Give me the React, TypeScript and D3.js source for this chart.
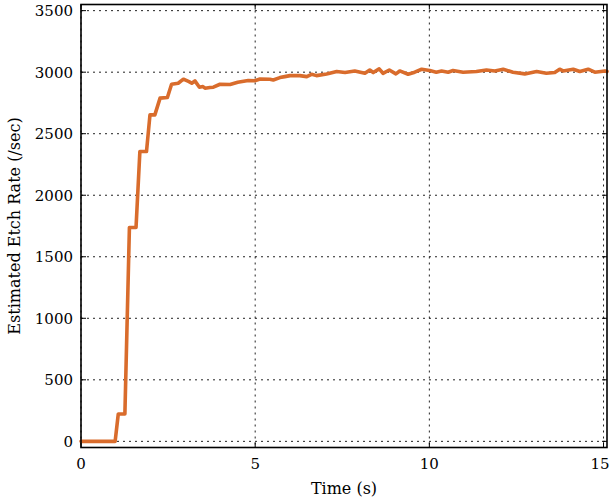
import React from "react";
import * as d3 from "d3";

// time (s) and estimated etch rate
const times = [0, 0.98, 1.07, 1.26, 1.39, 1.58, 1.69, 1.88, 1.98, 2.12, 2.27, 2.48, 2.6, 2.79, 2.94, 3.1, 3.18, 3.27, 3.4, 3.5, 3.56, 3.7, 3.8, 3.99, 4.28, 4.5, 4.8, 4.99, 5.14, 5.42, 5.52, 5.71, 5.85, 6.0, 6.28, 6.48, 6.62, 6.76, 7.05, 7.34, 7.58, 7.86, 8.15, 8.29, 8.39, 8.56, 8.67, 8.85, 9.04, 9.15, 9.39, 9.58, 9.78, 10.01, 10.2, 10.35, 10.54, 10.68, 10.97, 11.35, 11.64, 11.88, 12.12, 12.4, 12.74, 13.08, 13.36, 13.6, 13.74, 13.84, 14.13, 14.32, 14.56, 14.75, 15.04, 15.1];
const rates = [0, 0, 222, 222, 1738, 1738, 2355, 2355, 2653, 2653, 2789, 2794, 2902, 2910, 2943, 2923, 2910, 2929, 2878, 2883, 2870, 2875, 2878, 2902, 2900, 2918, 2932, 2930, 2945, 2943, 2937, 2956, 2964, 2972, 2972, 2964, 2983, 2972, 2986, 3005, 2997, 3010, 2991, 3018, 2997, 3027, 2991, 3018, 2986, 3010, 2983, 3000, 3024, 3013, 3000, 3010, 3000, 3013, 3000, 3005, 3018, 3010, 3024, 3000, 2986, 3005, 2991, 2997, 3024, 3010, 3024, 3005, 3024, 3000, 3010, 3005];

const xTicks = [0, 5, 10, 15];
const yTicks = [0, 500, 1000, 1500, 2000, 2500, 3000, 3500];

const W = 611, H = 501;
const left = 81, right = 607, top = 4.5, bottom = 447.5;
const font = "'DejaVu Serif', serif";

export default function App() {
  const x = d3.scaleLinear().domain([0, 15.1]).range([left, right]);
  const y = d3.scaleLinear().domain([-50, 3550]).range([bottom, top]);

  const pts: [number, number][] = times.map((t, i) => [t, rates[i]]);
  const line = d3.line<[number, number]>()
    .x((d) => x(d[0]))
    .y((d) => y(d[1]));

  return (
    <svg width={W} height={H} style={{ position: "absolute", left: 0, top: 0, background: "#fff" }}>
      <rect x={0} y={0} width={W} height={H} fill="#fff" />
      {/* grid */}
      {xTicks.map((t) => (
        <line key={"gx" + t} x1={x(t)} x2={x(t)} y1={top} y2={bottom}
          stroke="#222" strokeWidth={1} strokeDasharray="2,4" />
      ))}
      {yTicks.map((t) => (
        <line key={"gy" + t} x1={left} x2={right} y1={y(t)} y2={y(t)}
          stroke="#222" strokeWidth={1} strokeDasharray="2,4" />
      ))}
      {/* tick marks */}
      {xTicks.map((t) => (
        <g key={"tx" + t}>
          <line x1={x(t)} x2={x(t)} y1={bottom} y2={bottom - 5} stroke="#000" />
          <line x1={x(t)} x2={x(t)} y1={top} y2={top + 5} stroke="#000" />
        </g>
      ))}
      {yTicks.map((t) => (
        <g key={"ty" + t}>
          <line x1={left} x2={left + 5} y1={y(t)} y2={y(t)} stroke="#000" />
          <line x1={right} x2={right - 5} y1={y(t)} y2={y(t)} stroke="#000" />
        </g>
      ))}
      {/* data */}
      <path d={line(pts) ?? ""} fill="none" stroke="#d96c2c" strokeWidth={3.6}
        strokeLinejoin="round" strokeLinecap="round" />
      {/* box */}
      <rect x={left} y={top} width={right - left} height={bottom - top}
        fill="none" stroke="#000" strokeWidth={1.6} />
      {/* tick labels, last one kept inside the window */}
      {xTicks.map((t) => (
        <text key={"lx" + t} x={Math.min(x(t), 600)} y={469} textAnchor="middle"
          fontFamily={font} fontSize={15}>{t}</text>
      ))}
      {yTicks.map((t) => (
        <text key={"ly" + t} x={73} y={y(t) + 5.5} textAnchor="end"
          fontFamily={font} fontSize={15}>{t}</text>
      ))}
      <text x={(left + right) / 2} y={494} textAnchor="middle"
        fontFamily={font} fontSize={16}>Time (s)</text>
      <text transform={`translate(20,${(top + bottom) / 2}) rotate(-90)`} textAnchor="middle"
        fontFamily={font} fontSize={16}>Estimated Etch Rate (/sec)</text>
    </svg>
  );
}
